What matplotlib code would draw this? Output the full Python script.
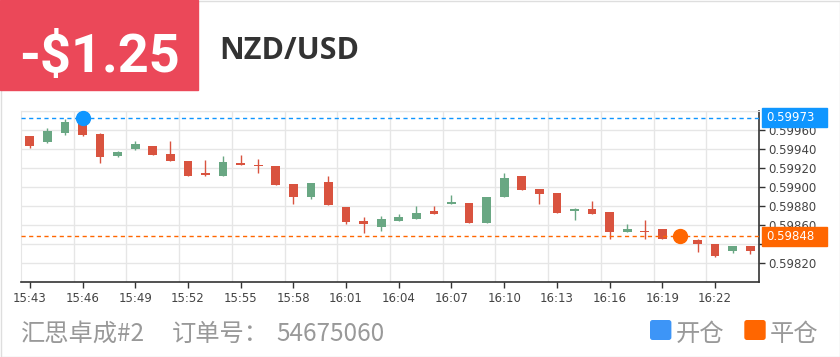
import matplotlib
matplotlib.use('Agg')
import matplotlib.pyplot as plt
from matplotlib.patches import Rectangle, FancyBboxPatch
from matplotlib.transforms import blended_transform_factory

# minute candles, NZD/USD
times = ['15:43', '15:44', '15:45', '15:46', '15:47', '15:48', '15:49', '15:50', '15:51', '15:52',
         '15:53', '15:54', '15:55', '15:56', '15:57', '15:58', '15:59', '16:00', '16:01', '16:02',
         '16:03', '16:04', '16:05', '16:06', '16:07', '16:08', '16:09', '16:10', '16:11', '16:12',
         '16:13', '16:14', '16:15', '16:16', '16:17', '16:18', '16:19', '16:20', '16:21', '16:22',
         '16:23', '16:24']
opens = [0.59954, 0.59947, 0.59957, 0.59967, 0.59956, 0.59933, 0.59940, 0.59943, 0.59935, 0.59927,
         0.59915, 0.59912, 0.59925, 0.59923, 0.59922, 0.59903, 0.59889, 0.59905, 0.59879, 0.59864,
         0.59858, 0.59864, 0.59866, 0.59875, 0.59882, 0.59883, 0.59862, 0.59889, 0.59912, 0.59898,
         0.59894, 0.59875, 0.59877, 0.59874, 0.59853, 0.59854, 0.59856, 0.59849, 0.59844, 0.59840,
         0.59833, 0.59838]
highs = [0.59954, 0.59962, 0.59972, 0.59973, 0.59957, 0.59938, 0.59948, 0.59943, 0.59948, 0.59927,
         0.59928, 0.59933, 0.59934, 0.59929, 0.59922, 0.59903, 0.59904, 0.59912, 0.59879, 0.59868,
         0.59869, 0.59872, 0.59880, 0.59880, 0.59892, 0.59883, 0.59889, 0.59915, 0.59912, 0.59898,
         0.59894, 0.59878, 0.59885, 0.59874, 0.59861, 0.59865, 0.59856, 0.59851, 0.59845, 0.59840,
         0.59838, 0.59838]
lows = [0.59941, 0.59946, 0.59955, 0.59954, 0.59925, 0.59932, 0.59939, 0.59934, 0.59927, 0.59912,
        0.59912, 0.59912, 0.59923, 0.59915, 0.59902, 0.59882, 0.59887, 0.59881, 0.59861, 0.59852,
        0.59854, 0.59864, 0.59866, 0.59872, 0.59882, 0.59862, 0.59862, 0.59889, 0.59897, 0.59882,
        0.59873, 0.59865, 0.59872, 0.59845, 0.59853, 0.59845, 0.59845, 0.59843, 0.59832, 0.59826,
        0.59831, 0.59829]
closes = [0.59943, 0.59959, 0.59968, 0.59955, 0.59932, 0.59937, 0.59945, 0.59934, 0.59927, 0.59912,
          0.59913, 0.59926, 0.59923, 0.59922, 0.59902, 0.59890, 0.59904, 0.59881, 0.59863, 0.59861,
          0.59866, 0.59868, 0.59873, 0.59872, 0.59884, 0.59862, 0.59889, 0.59909, 0.59897, 0.59893,
          0.59873, 0.59877, 0.59872, 0.59853, 0.59856, 0.59853, 0.59845, 0.59845, 0.59840, 0.59827,
          0.59838, 0.59833]

open_price = 0.59973
close_price = 0.59848
open_time = '15:46'
close_time = '16:20'

y_ticks = [0.5982, 0.5984, 0.5986, 0.5988, 0.5990, 0.5992, 0.5994, 0.5996]
# 0.59840 sits fully under the close-price tag
y_labels = ['0.59820', '', '0.59860', '0.59880', '0.59900', '0.59920', '0.59940', '0.59960']

pnl_text = '-$1.25'
symbol = 'NZD/USD'
account = '汇思卓成#2'
order_label = '订单号：'
order_no = '54675060'
legend_names = ['开仓', '平仓']

RED = '#d9533f'
GREEN = '#69a783'
BLUE = '#0f96ff'
ORANGE = '#ff6600'
GRID = '#e6e6e6'
CJK = ['Noto Sans CJK SC', 'DejaVu Sans']

W, H = 840, 357
fig = plt.figure(figsize=(W / 100, H / 100), dpi=100)
ax = fig.add_axes([21 / W, 1 - 282 / H, 738 / W, 171 / H])

x = list(range(len(times)))
colors = [GREEN if c >= o else RED for o, c in zip(opens, closes)]
ax.vlines(x, lows, highs, colors=colors, lw=1, zorder=2)
bottoms = [min(o, c) for o, c in zip(opens, closes)]
heights = [max(abs(c - o), 0.000003) for o, c in zip(opens, closes)]
ax.bar(x, heights, bottom=bottoms, width=0.5, color=colors, zorder=3)

ax.set_xlim(-0.5, len(times) - 0.5)
ax.set_ylim(0.5980, 0.5998)

ax.set_xticks(x[::3])
ax.set_xticklabels(times[::3])
ax.set_xticks([i - 0.5 for i in x[3::3]], minor=True)
ax.yaxis.tick_right()
ax.set_yticks(y_ticks)
ax.set_yticklabels(y_labels)
ax.tick_params(axis='both', which='major', labelsize=8.5, labelcolor='#444444',
               color='#333333', length=4, width=1, pad=3)
ax.tick_params(axis='x', which='minor', length=0)
ax.grid(axis='x', which='minor', color=GRID, lw=1)
ax.grid(axis='y', which='major', color=GRID, lw=1)
ax.axhline(0.5998, color=GRID, lw=1, zorder=0)
for side in ['top', 'left']:
    ax.spines[side].set_color(GRID)
for side in ['right', 'bottom']:
    ax.spines[side].set_color('#333333')
    ax.spines[side].set_linewidth(1.2)

# open / close markers
oi = times.index(open_time)
ci = times.index(close_time)
ax.axhline(open_price, color=BLUE, lw=1, ls=(0, (3, 2.5)), zorder=4)
ax.axhline(close_price, color=ORANGE, lw=1, ls=(0, (3, 2.5)), zorder=4)
ax.plot([oi], [open_price], 'o', color=BLUE, ms=10, zorder=5, clip_on=False)
ax.plot([ci], [close_price], 'o', color=ORANGE, ms=10, zorder=5, clip_on=False)

tr = blended_transform_factory(ax.transAxes, ax.transData)
for price, col in [(open_price, BLUE), (close_price, ORANGE)]:
    ax.add_patch(Rectangle((1.004, price - 0.0001), 0.088, 0.0002, transform=tr,
                           color=col, clip_on=False, zorder=6))
    ax.text(1.0104, price, '%.5f' % price, transform=tr, color='white', fontsize=8.5,
            va='center', ha='left', zorder=7, clip_on=False)

# header
fig.add_artist(Rectangle((0.5 / W, 0.5 / H), (W - 1) / W, (H - 1) / H, transform=fig.transFigure,
                         fill=False, edgecolor='#dedede', lw=1))
fig.add_artist(Rectangle((0, 1 - 90 / H), 198 / W, 90 / H, transform=fig.transFigure,
                         color='#eb4859'))
fig.text(99 / W, 1 - 71.7 / H, pnl_text, color='white', fontsize=39, fontweight='bold',
         family='Roboto', ha='center', va='baseline')
fig.text(219 / W, 1 - 59.3 / H, symbol, color='#333333', fontsize=22, fontweight='bold',
         family='Open Sans', ha='left', va='baseline')

# footer
base = 1 - 341 / H
fig.text(21 / W, base, account, color='#999999', fontsize=17.5, family=CJK, va='baseline')
fig.text(172 / W, base, order_label, color='#999999', fontsize=17.5, family=CJK, va='baseline')
fig.text(276 / W, base, order_no, color='#999999', fontsize=17.5, family=CJK, va='baseline')

for name, col, sx, tx in [(legend_names[0], '#3d95f7', 650.7, 676), (legend_names[1], ORANGE, 745, 770)]:
    fig.add_artist(FancyBboxPatch((sx / 100, (H - 339.3) / 100), 0.2, 0.186,
                                  boxstyle='round,pad=0,rounding_size=0.02',
                                  transform=fig.dpi_scale_trans, color=col))
    fig.text(tx / W, base, name, color='#999999', fontsize=17.5, family=CJK, va='baseline')

fig.savefig('out.png', dpi=100)
